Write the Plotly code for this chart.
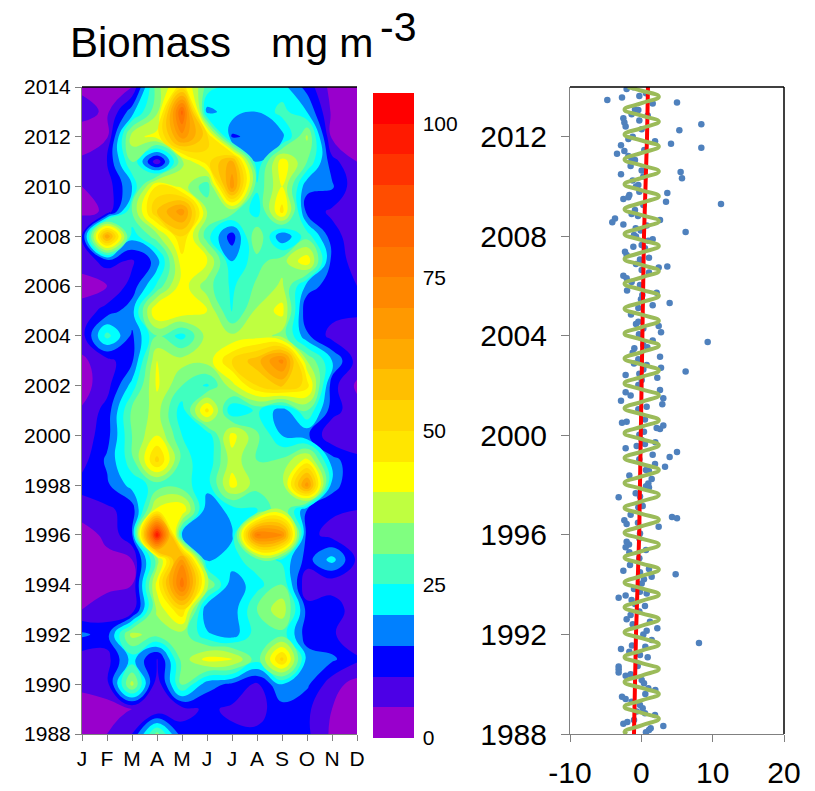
import plotly.graph_objects as go

W, H = 815, 791
FONT = "Liberation Sans"

months = [1, 2, 3, 4, 5, 6, 7, 8, 9, 10, 11, 12]
month_labels = ["J", "F", "M", "A", "M", "J", "J", "A", "S", "O", "N", "D"]
years_desc = list(range(2014, 1987, -1))

biomass_rows = [
    [4, 2, 5, 33, 48, 28, 22, 22, 22, 13, 3, 2],          # 2014
    [7, 4, 18, 34, 82, 18, 23, 20, 27, 20, 4, 2],         # 2013
    [2, 4.5, 38, 42, 68, 52, 14, 17, 18, 36, 4, 2],       # 2012
    [6, 10, 30, 6, 34, 48, 62, 20, 43, 30, 12, 5],        # 2011
    [5, 7, 20, 46, 38, 26, 68, 26, 40, 16, 16, 6],        # 2010
    [4, 5.5, 30, 55, 68, 35, 32, 22, 47, 13, 9, 6],       # 2009
    [10, 65, 22, 33, 50, 27, 12, 35, 15, 28, 12, 7],      # 2008
    [7, 12, 9, 17, 43, 41, 20, 28, 33, 44, 13, 8],        # 2007
    [3, 5, 12, 26, 43, 32, 24, 31, 36, 18, 12, 10],       # 2006
    [7, 12, 18, 46, 44, 40, 24, 36, 42, 10, 12, 11],      # 2005
    [8, 27, 14, 30, 23, 37, 36, 38, 33, 16, 8, 7],        # 2004
    [4, 8, 14, 40, 37, 37, 50, 58, 72, 35, 20, 8],        # 2003
    [3, 8, 22, 41, 30, 24, 38, 50, 56, 48, 12, 4],        # 2002
    [5.5, 12, 31, 37, 22, 47, 20, 26, 17, 30, 12, 7],     # 2001
    [7, 13, 30, 40, 25, 21, 42, 31, 20, 16, 6, 7],        # 2000
    [8, 16, 28, 52, 28, 20.5, 38, 30, 31, 42, 17, 11],    # 1999
    [12, 14, 22, 27, 27, 22, 42, 32, 32, 68, 17, 11],     # 1998
    [7, 9, 12, 42, 45, 16, 22, 24, 35, 15, 11, 10],       # 1997
    [3, 6, 14, 100, 20, 16, 19, 76, 70, 12, 8, 9],        # 1996
    [3, 4, 5, 32, 68, 19, 23, 28, 24, 13, 22, 9],         # 1995
    [3, 4, 5, 42, 78, 36, 16.5, 23, 30, 5, 6, 7],         # 1994
    [5, 7, 6, 36, 50, 15, 17, 30, 39, 13, 15, 5],         # 1993
    [16, 13, 37, 32, 33, 21, 17, 28, 28, 12, 11, 5],      # 1992
    [7, 8, 22, 8, 32, 42, 41, 27, 52, 18, 16, 11],        # 1991
    [6, 8, 37, 6, 31, 17, 14, 9, 20, 16, 7, 3],           # 1990
    [3, 3, 5, 5, 8, 11, 9, 8, 13, 11, 5, 3],              # 1989
    [4, 5, 10, 32, 12, 12, 11, 11, 11, 11, 4, 3],         # 1988
]

level_colors = [
    "#9900CC", "#4C00E6", "#0000FF", "#0080FF", "#00FFFF", "#40FFBF", "#80FF80",
    "#BFFF40", "#FFFF00", "#FFE600", "#FFD500", "#FFBF00", "#FFAA00", "#FF9900",
    "#FF8800", "#FF7700", "#FF6600", "#FF4D00", "#FF3300", "#FF1A00", "#FF0000",
]
colorbar_ticks = [0, 25, 50, 75, 100]

point_years = [
    2013.48, 2013.58, 2013.92, 2013.99, 2013.64, 2013.75, 2013.34, 2013.38, 2013.10, 2013.08,
    2012.90, 2012.85, 2012.74, 2012.65, 2012.57, 2012.41, 2012.50, 2012.26, 2012.30, 2011.91,
    2012.00, 2011.82, 2011.72, 2011.66, 2011.56, 2011.43, 2011.32, 2011.47, 2011.23, 2011.07,
    2011.07, 2010.83, 2010.64, 2010.58, 2010.49, 2010.33, 2010.24, 2010.40, 2010.06, 2010.00,
    2009.79, 2009.74, 2009.39, 2009.66, 2009.50, 2009.57, 2009.30, 2009.26, 2009.06, 2008.90,
    2008.82, 2008.72, 2008.56, 2008.66, 2008.47, 2008.43, 2008.32, 2008.23, 2008.17, 2008.05,
    2007.99, 2007.88, 2007.82, 2007.65, 2007.58, 2007.52, 2007.38, 2007.25, 2007.14, 2007.07,
    2006.98, 2006.89, 2006.75, 2006.79, 2006.65, 2006.55, 2006.41, 2006.31, 2006.16, 2006.04,
    2005.82, 2005.73, 2005.64, 2005.47, 2005.32, 2005.23, 2005.12,
    2004.86, 2004.48, 2004.57, 2004.40, 2004.14, 2004.30, 2004.06, 2003.94, 2003.75, 2003.81,
    2003.63, 2003.54, 2003.50, 2003.32, 2003.16, 2003.06, 2002.89, 2002.83, 2002.72, 2002.57,
    2002.65, 2002.48, 2002.43, 2002.32, 2002.23, 2002.02, 2001.82, 2001.73, 2001.60, 2001.49,
    2001.39, 2001.25, 2001.15, 2001.05, 2000.64, 2000.51, 2000.55, 2000.40, 2000.30, 2000.26,
    2000.15, 2000.03, 1999.81, 1999.72, 1999.65, 1999.57, 1999.48, 1999.33, 1999.13, 1999.22,
    1999.04, 1998.85, 1998.74, 1998.61, 1998.57, 1998.39, 1998.25, 1998.07, 1997.96, 1997.91,
    1997.67, 1997.54, 1997.51, 1997.11, 1997.16, 1996.81, 1996.72, 1996.67, 1996.59, 1996.44,
    1996.49, 1996.33,
    1996.06, 1995.86, 1995.73, 1995.62, 1995.50, 1995.39, 1995.30, 1995.06, 1994.79, 1994.63,
    1994.56, 1994.50, 1994.42, 1994.32, 1994.22, 1994.05, 1993.83, 1993.72, 1993.65, 1993.48,
    1993.57, 1993.38, 1993.22, 1993.14, 1992.92, 1992.78, 1992.61, 1992.51, 1992.41, 1992.25,
    1992.15, 1992.00, 1991.78, 1991.66, 1991.42, 1991.56, 1991.51, 1991.31, 1991.08, 1991.17,
    1990.73, 1990.71, 1990.60, 1990.47, 1990.34, 1990.40, 1990.17, 1990.04, 1989.84, 1989.77,
    1989.61, 1989.50, 1989.41, 1989.30, 1989.17, 1989.03, 1988.90, 1988.83, 1988.76, 1988.56,
    1988.41, 1988.48, 1988.32, 1988.23, 1988.16, 1988.07,
]
point_values = [
    -4.77, -2.71, -2.06, -1.12, -0.28, 0.65, 1.59, 5.00, -0.89, -0.42,
    -1.36, 0.89, -2.52, -0.28, -2.38, -2.20, 8.41, 5.33, 0.05, -1.82,
    -1.21, 1.92, 4.16, -2.85, 8.41, -2.38, -3.41, 0.42, -1.82, -0.89,
    -1.36, -1.50, 0.05, 5.51, -2.85, 5.70, -1.21, 0.28, -0.42, -0.75,
    -0.28, 3.64, 3.46, -1.68, -2.52, -1.82, 11.17, 0.28, -0.89, -1.36,
    -0.47, -3.69, -4.07, 2.62, -2.52, 0.75, -0.79, -0.09, 6.21, -1.03,
    -0.75, 1.59, 0.98, 0.05, -1.12, 0.51, -2.29, -2.06, 1.07, -0.19,
    0.05, -0.75, 2.43, 3.64, 0.05, 1.07, -2.52, -2.06, -1.36, -0.19,
    -2.00, 2.15, 0.14, -0.05, 3.97, 1.59, -0.42,
    -1.45, -0.75, -0.42, 2.43, 2.76, 0.28, -0.33, -0.19, 9.30, 1.59,
    0.28, 0.84, -0.98, -1.21, 2.62, -0.42, -1.03, 0.75, 2.76, 6.21,
    0.28, -0.28, -2.20, 2.24, 0.05, -0.42, 2.62, -2.20, -1.50, 3.08,
    -2.85, 2.94, 0.75, -0.42, 0.51, -2.71, -2.06, 3.08, 2.15, 2.62,
    0.37, -0.28, 0.05, 1.96, 0.51, -0.65, -2.20, 5.00, 3.97, 1.59,
    -0.28, 1.92, 3.32, 0.65, 1.07, -1.68, 1.45, 0.98, 0.65, 1.07,
    -0.79, -0.19, -3.18, -0.42, 0.19, -1.50, 4.30, 5.00, -2.38, -2.06,
    -0.47, 2.43,
    -0.19, -0.28, -2.06, -1.73, -2.20, 0.65, -1.68, -0.28, -1.59, 1.07,
    -2.52, -0.19, 4.81, 1.45, 0.37, 0.05, -1.03, -0.19, 0.75, -3.18,
    -2.20, -1.36, -0.89, 0.51, -0.28, -1.50, -2.06, 1.21, -1.21, 2.24,
    0.75, 0.28, 1.45, 8.08, -2.85, -1.31, 0.56, -1.68, 0.89, -0.19,
    -0.51, -3.18, -3.18, -3.18, -2.20, -1.50, 0.05, 0.37, 0.98, 1.96,
    0.56, -2.71, -2.20, -1.36, -0.19, 0.19, -0.65, 0.51, 1.92, -1.03,
    -2.52, -1.96, 3.08, 1.31, 1.07, 0.65,
]

trend_years = [1988, 1992, 1996, 2000, 2004, 2008, 2012, 2014]
trend_values = [-1.03, -0.75, -0.30, -0.10, 0.20, 0.37, 0.80, 0.93]

seasonal_years = [
    1988.00, 1988.09, 1988.35, 1988.61, 1988.85, 1989.09, 1989.35, 1989.61, 1989.85,
    1990.09, 1990.35, 1990.61, 1990.85, 1991.09, 1991.35, 1991.61, 1991.85,
    1992.09, 1992.35, 1992.61, 1992.85, 1993.09, 1993.35, 1993.61, 1993.85,
    1994.09, 1994.35, 1994.61, 1994.85, 1995.09, 1995.35, 1995.61, 1995.85,
    1996.09, 1996.35, 1996.61, 1996.85, 1997.09, 1997.35, 1997.61, 1997.85,
    1998.09, 1998.35, 1998.61, 1998.85, 1999.09, 1999.35, 1999.61, 1999.85,
    2000.09, 2000.35, 2000.61, 2000.85, 2001.09, 2001.35, 2001.61, 2001.85,
    2002.09, 2002.35, 2002.61, 2002.85, 2003.09, 2003.35, 2003.61, 2003.85,
    2004.09, 2004.35, 2004.61, 2004.85, 2005.09, 2005.35, 2005.61, 2005.85,
    2006.09, 2006.35, 2006.61, 2006.85, 2007.09, 2007.35, 2007.61, 2007.85,
    2008.09, 2008.35, 2008.61, 2008.85, 2009.09, 2009.35, 2009.61, 2009.85,
    2010.09, 2010.35, 2010.61, 2010.85, 2011.09, 2011.35, 2011.61, 2011.85,
    2012.09, 2012.35, 2012.61, 2012.85, 2013.09, 2013.35, 2013.61, 2013.85, 2014.00,
]
seasonal_values = [
    -2.0, -2.35, 0.05, 2.45, 0.05, -2.35, 0.05, 2.45, 0.05,
    -2.35, 0.05, 2.45, 0.05, -2.35, 0.05, 2.45, 0.05,
    -2.35, 0.05, 2.45, 0.05, -2.35, 0.05, 2.45, 0.05,
    -2.35, 0.05, 2.45, 0.05, -2.35, 0.05, 2.45, 0.05,
    -2.35, 0.05, 2.45, 0.05, -2.35, 0.05, 2.45, 0.05,
    -2.35, 0.05, 2.45, 0.05, -2.35, 0.05, 2.45, 0.05,
    -2.35, 0.05, 2.45, 0.05, -2.35, 0.05, 2.45, 0.05,
    -2.35, 0.05, 2.45, 0.05, -2.35, 0.05, 2.45, 0.05,
    -2.35, 0.05, 2.45, 0.05, -2.35, 0.05, 2.45, 0.05,
    -2.35, 0.05, 2.45, 0.05, -2.35, 0.05, 2.45, 0.05,
    -2.35, 0.05, 2.45, 0.05, -2.35, 0.05, 2.45, 0.05,
    -2.35, 0.05, 2.45, 0.05, -2.35, 0.05, 2.45, 0.05,
    -2.35, 0.05, 2.45, 0.05, -2.35, 0.05, 2.45, 0.05, -1.9,
]

left_year_ticks = list(range(1988, 2015, 2))
right_year_ticks = list(range(1988, 2013, 4))
right_x_ticks = [-10, 0, 10, 20]


def fx(px):
    return px / W


def fy(py):
    return 1 - py / H


n = len(level_colors)
colorscale = []
for i, c in enumerate(level_colors):
    colorscale.append([i / n, c])
    colorscale.append([(i + 1) / n, c])

fig = go.Figure()
fig.add_trace(go.Contour(
    x=months, y=years_desc[::-1], z=biomass_rows[::-1],
    zmin=0, zmax=105, colorscale=colorscale, autocontour=False,
    contours=dict(start=0, end=105, size=5, coloring="fill", showlines=False),
    line=dict(width=0, smoothing=1.3),
    xaxis="x", yaxis="y", hoverinfo="skip",
    colorbar=dict(
        x=fx(373), xanchor="left", xpad=0, y=fy(93), yanchor="top", ypad=0,
        thicknessmode="pixels", thickness=41, lenmode="pixels", len=645,
        outlinewidth=0, tickvals=colorbar_ticks, ticks="outside", ticklen=5,
        tickcolor="rgba(0,0,0,0)", tickfont=dict(family=FONT, size=21, color="#000"),
    ),
))
fig.add_trace(go.Scatter(
    x=point_values, y=point_years, mode="markers", xaxis="x2", yaxis="y2",
    marker=dict(color="#4F81BD", size=6.5), showlegend=False, hoverinfo="skip",
))
fig.add_trace(go.Scatter(
    x=trend_values, y=trend_years, mode="lines", xaxis="x2", yaxis="y2",
    line=dict(color="#FF0000", width=4), showlegend=False, hoverinfo="skip",
))
fig.add_trace(go.Scatter(
    x=seasonal_values, y=seasonal_years, mode="lines", xaxis="x2", yaxis="y2",
    line=dict(color="#9BBB59", width=4, shape="spline", smoothing=1.3),
    showlegend=False, hoverinfo="skip",
))

GREY = "#808080"
fig.update_layout(
    width=W, height=H, margin=dict(l=0, r=0, t=0, b=0, autoexpand=False),
    paper_bgcolor="white", plot_bgcolor="white", showlegend=False,
    font=dict(family=FONT, color="#000"),
    xaxis=dict(
        domain=[fx(82), fx(357)], range=[1, 12], tickvals=months, ticktext=month_labels,
        ticks="outside", ticklen=6, tickcolor=GREY, showgrid=False, zeroline=False,
        showline=True, linecolor=GREY, tickfont=dict(size=21), anchor="y",
    ),
    yaxis=dict(
        domain=[fy(734), fy(87)], range=[1988, 2014], tickvals=left_year_ticks,
        ticks="outside", ticklen=6, tickcolor=GREY, showgrid=False, zeroline=False,
        showline=True, linecolor=GREY, tickfont=dict(size=21), anchor="x",
    ),
    xaxis2=dict(
        domain=[fx(570), fx(784)], range=[-10, 20], tickvals=right_x_ticks,
        ticktext=["-10", "0", "10", "20"],
        ticks="outside", ticklen=7, tickcolor=GREY, showgrid=False, zeroline=False,
        showline=True, linecolor=GREY, tickfont=dict(size=30), anchor="y2",
        ticklabelstandoff=5,
    ),
    yaxis2=dict(
        domain=[fy(734), fy(87)], range=[1988, 2014], tickvals=right_year_ticks,
        ticks="outside", ticklen=8, tickcolor=GREY, showgrid=False, zeroline=False,
        showline=True, linecolor=GREY, tickfont=dict(size=30), anchor="x2",
        tickformat="d", ticklabelstandoff=8,
    ),
    shapes=[
        dict(type="line", xref="paper", yref="paper", x0=fx(82), x1=fx(357), y0=fy(87), y1=fy(87),
             line=dict(color="#000", width=1.5)),
        dict(type="line", xref="paper", yref="paper", x0=fx(570), x1=fx(784), y0=fy(87), y1=fy(87),
             line=dict(color="#000", width=1.5)),
        dict(type="line", xref="paper", yref="paper", x0=fx(784), x1=fx(784), y0=fy(87), y1=fy(734),
             line=dict(color="#000", width=1.5)),
    ],
    annotations=[
        dict(text="Biomass", xref="paper", yref="paper", x=fx(68), y=fy(68), xanchor="left",
             yanchor="bottom", showarrow=False, font=dict(size=42)),
        dict(text="mg m", xref="paper", yref="paper", x=fx(269), y=fy(68), xanchor="left",
             yanchor="bottom", showarrow=False, font=dict(size=41)),
        dict(text="-3", xref="paper", yref="paper", x=fx(378), y=fy(52), xanchor="left",
             yanchor="bottom", showarrow=False, font=dict(size=41)),
    ],
)

fig.write_html("out.html", config=dict(displayModeBar=False),
               post_script="document.body.style.margin='0';document.body.style.overflow='hidden';")
